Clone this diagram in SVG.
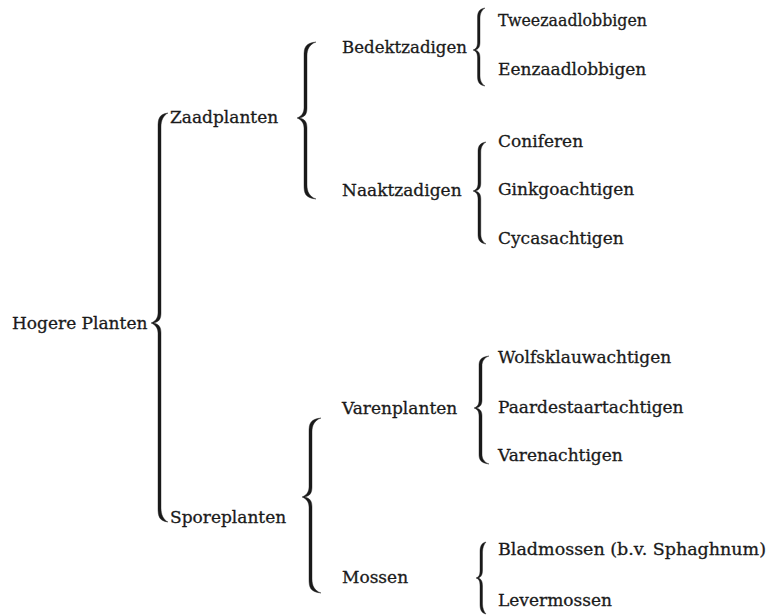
<svg xmlns="http://www.w3.org/2000/svg" width="772" height="615" viewBox="0 0 772 615">
<style>
text{font-family:"DejaVu Serif","Liberation Serif",serif;font-size:17px;fill:#1a1a1a;stroke:#1a1a1a;stroke-width:0.3}
.br{fill:#1a1a1a;stroke:#1a1a1a;stroke-width:0.4;stroke-linejoin:round}
</style>
<rect width="772" height="615" fill="#fff"/>
<g id="connectors">
<path class="br" d="M168,113 C159,114 158,119 158,127 L158,313 C158,319 154,322 151,323 C154,324 158,327 158,333 L158,508 C158,516 159,521 168,522 C163,519.5 161,514 161,508 L161,333 C161,327 159,324 153.5,323 C159,322 161,319 161,313 L161,127 C161,121 163,115.5 168,113 Z"/>
<path class="br" d="M316,42 C305,43 304,48 304,56 L304,108 C304,114 300,117 297,118 C300,119 304,122 304,128 L304,185 C304,193 305,198 316,199 C309,196.5 307,191 307,185 L307,128 C307,122 305,119 299.5,118 C305,117 307,114 307,108 L307,56 C307,50 309,44.5 316,42 Z"/>
<path class="br" d="M321,418 C310,419 309,424 309,432 L309,487 C309,493 305,496 302,497 C305,498 309,501 309,507 L309,579 C309,587 310,592 321,593 C314,590.5 312,585 312,579 L312,507 C312,501 310,498 304.5,497 C310,496 312,493 312,487 L312,432 C312,426 314,420.5 321,418 Z"/>
<path class="br" d="M485,8 C478.5,9 477.5,13 477.5,18 L477.5,42 C477.5,47 476,49 473,50 C476,51 477.5,53 477.5,58 L477.5,76 C477.5,81 478.5,85 485,86 C481.5,84 480,80 480,76 L480,58 C480,53 478.5,51 475.5,50 C478.5,49 480,47 480,42 L480,18 C480,14 481.5,10 485,8 Z"/>
<path class="br" d="M486,142 C479,143 478,147 478,152 L478,183 C478,188 476,190 473,191 C476,192 478,194 478,199 L478,234 C478,239 479,243 486,244 C482.3,242 480.8,238 480.8,234 L480.8,199 C480.8,194 479,192 475.5,191 C479,190 480.8,188 480.8,183 L480.8,152 C480.8,148 482.3,144 486,142 Z"/>
<path class="br" d="M489,356 C480,357 479,361 479,366 L479,400 C479,405 477,407 474,408 C477,409 479,411 479,416 L479,454 C479,459 480,463 489,464 C483.5,462 482,458 482,454 L482,416 C482,411 480,409 476.5,408 C480,407 482,405 482,400 L482,366 C482,362 483.5,358 489,356 Z"/>
<path class="br" d="M486,542 C481,543 480,547 480,552 L480,570 C480,575 479,577 476,578 C479,579 480,581 480,586 L480,604 C480,609 481,613 486,614 C484,612 482.5,608 482.5,604 L482.5,586 C482.5,581 481,579 478.5,578 C481,577 482.5,575 482.5,570 L482.5,552 C482.5,548 484,544 486,542 Z"/>
</g>
<g id="n-hogere"><text x="12" y="329">Hogere Planten</text></g>
<g id="n-zaad"><text x="170" y="123">Zaadplanten</text></g>
<g id="n-spore"><text x="170" y="523">Sporeplanten</text></g>
<g id="n-bedekt"><text x="342" y="53" textLength="125" lengthAdjust="spacingAndGlyphs">Bedektzadigen</text></g>
<g id="n-naakt"><text x="342" y="196">Naaktzadigen</text></g>
<g id="n-varenplanten"><text x="342" y="414">Varenplanten</text></g>
<g id="n-mossen"><text x="342" y="583">Mossen</text></g>
<g id="n-twee"><text x="498" y="26" textLength="149" lengthAdjust="spacingAndGlyphs">Tweezaadlobbigen</text></g>
<g id="n-een"><text x="498" y="75">Eenzaadlobbigen</text></g>
<g id="n-coni"><text x="498" y="147">Coniferen</text></g>
<g id="n-ginkgo"><text x="498" y="195">Ginkgoachtigen</text></g>
<g id="n-cycas"><text x="498" y="244">Cycasachtigen</text></g>
<g id="n-wolf"><text x="498" y="363">Wolfsklauwachtigen</text></g>
<g id="n-paard"><text x="498" y="413">Paardestaartachtigen</text></g>
<g id="n-varenacht"><text x="498" y="461">Varenachtigen</text></g>
<g id="n-blad"><text x="498" y="555" textLength="268" lengthAdjust="spacingAndGlyphs">Bladmossen (b.v. Sphaghnum)</text></g>
<g id="n-lever"><text x="498" y="606">Levermossen</text></g>
</svg>
